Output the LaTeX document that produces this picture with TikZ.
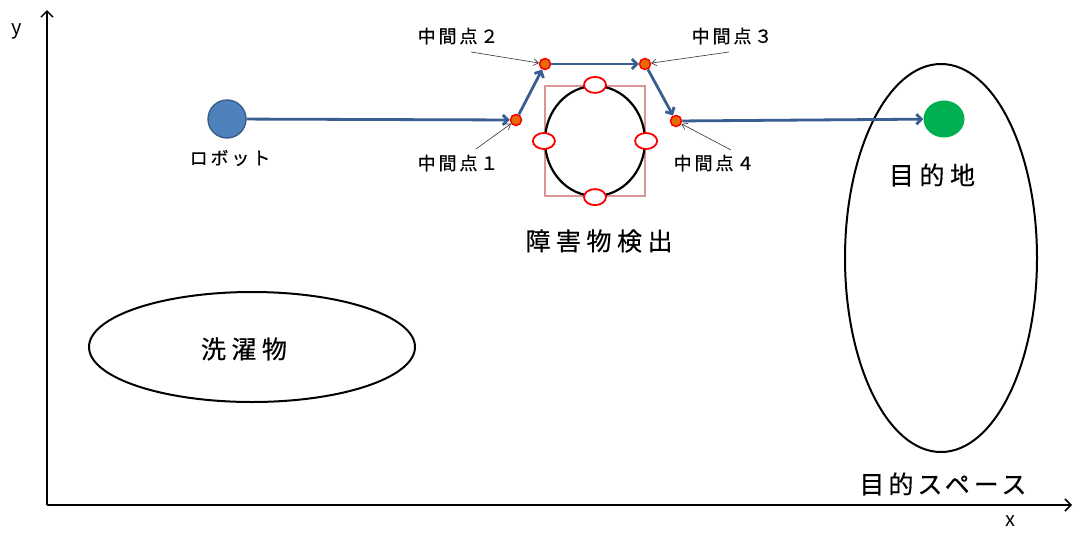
\documentclass[tikz,border=0pt]{standalone}
\usepackage{fontspec}
\setmainfont{Noto Sans CJK JP}
\newfontfamily\bigjp[LetterSpace=22,FakeBold=0.4]{Noto Sans CJK JP}
\newfontfamily\widejp[LetterSpace=16,FakeBold=0.4]{Noto Sans CJK JP}
\newfontfamily\smalljp[LetterSpace=16,FakeBold=0.4]{Noto Sans CJK JP}
\usetikzlibrary{arrows.meta,shapes.geometric}
\definecolor{pathblue}{RGB}{56,94,146}
\definecolor{robotblue}{RGB}{79,129,189}
\definecolor{robotedge}{RGB}{56,93,138}
\definecolor{goalgreen}{RGB}{0,176,80}
\definecolor{wporange}{RGB}{228,108,10}
\definecolor{boxpink}{RGB}{217,150,148}
\tikzset{
  axis/.style={line width=1.5pt, -{Straight Barb[length=6pt,width=12pt]}},
  route/.style={draw=pathblue, line width=2.8pt, -{Straight Barb[length=5pt,width=10pt]}},
  pointer/.style={draw=black!80, line width=0.6pt, -{Straight Barb[length=5pt,width=7pt]}},
  wpt/.style={circle, draw=red, line width=1.5pt, fill=wporange, minimum size=11pt, inner sep=0pt},
  marker/.style={ellipse, draw=red, line width=1.8pt, fill=white, minimum width=22pt, minimum height=16pt, inner sep=0pt},
  bigtxt/.style={font=\fontsize{25}{28}\selectfont\bigjp},
  widetxt/.style={font=\fontsize{25}{28}\selectfont\widejp},
  smalltxt/.style={font=\fontsize{18}{20}\selectfont\smalljp},
}
\begin{document}
\begin{tikzpicture}[x=1pt,y=-1pt]
\useasboundingbox (0,0) rectangle (1079,533);

% axes
\coordinate (o) at (47,505);
\coordinate (ytop) at (47,10);
\coordinate (xend) at (1072,505);
\draw[axis] (o) -- (ytop);
\draw[axis] (o) -- (xend);
\node[font=\fontsize{20}{22}\selectfont] (ylab) at (17,31) {y};
\node[font=\fontsize{20}{22}\selectfont] (xlab) at (1010,521) {x};

% laundry area
\node[ellipse, draw=black, line width=2pt, minimum width=326pt, minimum height=110pt] (laundry) at (252,347) {};
\node[bigtxt] (laundrytxt) at (244,349) {洗濯物};

% goal area
\node[ellipse, draw=black, line width=2pt, minimum width=192pt, minimum height=388pt] (area) at (941,258) {};
\node[widetxt] (areatxt) at (943,484) {目的スペース};

% obstacle with its bounding box and detected edge points
\draw[boxpink, line width=2.2pt] (545,86) rectangle (645,196);
\node[ellipse, draw=black, line width=2.2pt, minimum width=100pt, minimum height=110pt, inner sep=0pt] (obst) at (595,141) {};
\node[marker] (mt) at (obst.north) {};
\node[marker] (mb) at (obst.south) {};
\node[marker] (ml) at (obst.west) {};
\node[marker] (mr) at (obst.east) {};
\node[bigtxt] (obsttxt) at (599,241) {障害物検出};

% robot, waypoints and destination
\node[circle, draw=robotedge, line width=1.4pt, fill=robotblue, minimum size=38pt, inner sep=0pt] (robot) at (227,119) {};
\node[smalltxt] (robottxt) at (230,158) {ロボット};
\node[wpt] (w1) at (516,120) {};
\node[wpt] (w2) at (545,64) {};
\node[wpt] (w3) at (645,64) {};
\node[wpt] (w4) at (676,121) {};
\node[ellipse, fill=goalgreen, minimum width=41pt, minimum height=37pt, inner sep=0pt] (goal) at (944,119) {};
\node[bigtxt] (goaltxt) at (932,175) {目的地};

% planned route
\draw[route] (robot) -- (w1);
\draw[route] (w1) -- (w2);
\draw[route] (w2) -- (w3);
\draw[route] (w3) -- (w4);
\draw[route] (w4) -- (goal);

% waypoint labels
\node[smalltxt] (l1) at (458,163) {中間点１};
\node[smalltxt] (l2) at (458,36) {中間点２};
\node[smalltxt] (l3) at (732,36) {中間点３};
\node[smalltxt] (l4) at (714,163) {中間点４};
\coordinate (p1) at (476,149);
\coordinate (p2) at (471,52);
\coordinate (p3) at (729,52);
\coordinate (p4) at (731,150);
\draw[pointer] (p1) -- (w1);
\draw[pointer] (p2) -- (w2);
\draw[pointer] (p3) -- (w3);
\draw[pointer] (p4) -- (w4);
\end{tikzpicture}
\end{document}
